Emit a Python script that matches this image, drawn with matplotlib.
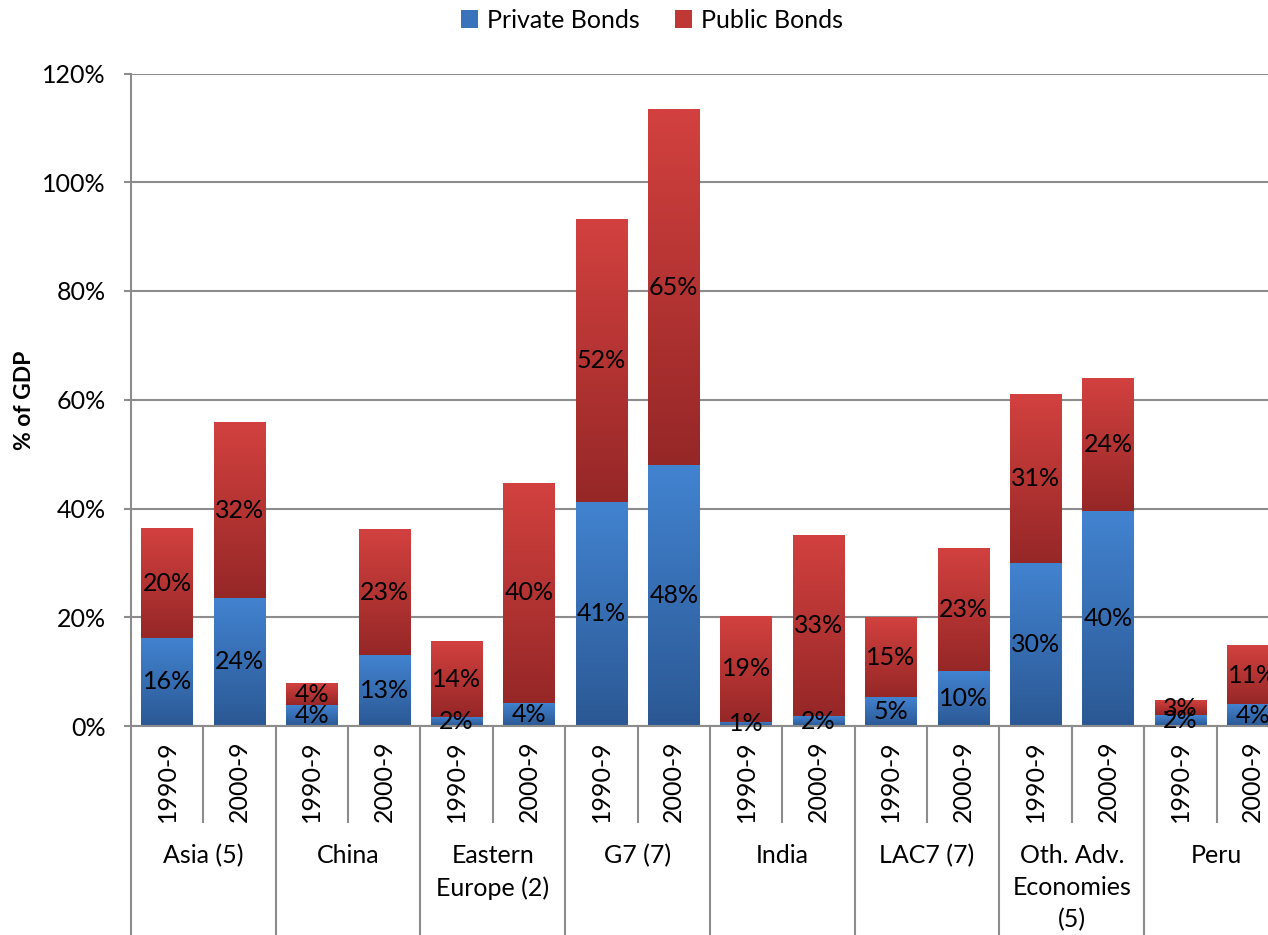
import numpy as np
import matplotlib
matplotlib.use("Agg")
import matplotlib.pyplot as plt
from matplotlib.colors import LinearSegmentedColormap
from matplotlib.patches import Patch
from matplotlib.transforms import blended_transform_factory

W, H = 1268, 935

groups = ["Asia (5)", "China", "Eastern\nEurope (2)", "G7 (7)", "India",
          "LAC7 (7)", "Oth. Adv.\nEconomies\n(5)", "Peru"]
periods = ["1990-9", "2000-9"]

# one value per bar, ordered group by group (1990-9 then 2000-9)
private_bonds = [16.2, 23.6, 3.8, 13.0, 1.7, 4.3, 41.2, 48.0,
                 0.8, 1.8, 5.3, 10.1, 30.0, 39.5, 2.0, 4.0]
public_bonds = [20.1, 32.2, 4.0, 23.0, 13.8, 40.4, 52.0, 65.4,
                19.4, 33.2, 14.7, 22.6, 30.9, 24.4, 2.6, 10.7]

blue_cmap = LinearSegmentedColormap.from_list("blue", ["#2b5894", "#4283d0"])
red_cmap = LinearSegmentedColormap.from_list("red", ["#962727", "#d2413f"])
grey = "#8c8c8c"
fs = 18

plt.rcParams["font.family"] = ["Lato", "DejaVu Sans"]

fig = plt.figure(figsize=(W / 100, H / 100), dpi=100)
ax_left, ax_right, ax_top, ax_base = 131, 1289, 73.5, 726
ax = fig.add_axes([ax_left / W, 1 - ax_base / H,
                   (ax_right - ax_left) / W, (ax_base - ax_top) / H])

x = np.arange(len(private_bonds))
bar_w = 0.71
priv = ax.bar(x, private_bonds, bar_w, color="none", zorder=2)
pub = ax.bar(x, public_bonds, bar_w, bottom=private_bonds, color="none", zorder=2)

# vertical gradient inside each segment, light on top, darker at the base
grad = np.linspace(0, 1, 256).reshape(-1, 1)
for container, cmap in ((priv, blue_cmap), (pub, red_cmap)):
    for rect in container:
        x0, y0 = rect.get_x(), rect.get_y()
        x1, y1 = x0 + rect.get_width(), y0 + rect.get_height()
        ax.imshow(grad, cmap=cmap, extent=[x0, x1, y0, y1], origin="lower",
                  aspect="auto", zorder=2, interpolation="bilinear")
        val = rect.get_height()
        ax.text((x0 + x1) / 2, (y0 + y1) / 2, f"{val:.0f}%", ha="center",
                va="center", fontsize=fs, color="black", zorder=5, clip_on=False)

ax.set_xlim(-0.5, len(x) - 0.5)
ax.set_ylim(0, 120)
ax.set_yticks(np.arange(0, 121, 20))
ax.set_yticklabels([f"{v}%" for v in range(0, 121, 20)], fontsize=fs)
ax.tick_params(axis="y", length=5, width=1.5, color=grey, pad=13)
ax.set_xticks([])
ax.yaxis.grid(True, color=grey, linewidth=1.5, zorder=0)
ax.set_axisbelow(True)
for side in ("top", "right"):
    ax.spines[side].set_visible(False)
for side in ("left", "bottom"):
    ax.spines[side].set_color(grey)
    ax.spines[side].set_linewidth(1.5)
    ax.spines[side].set_zorder(3)

fig.text(25 / W, 1 - 400 / H, "% of GDP", rotation=90, ha="center",
         va="center", fontsize=16.5, fontweight="bold")

# two-level category axis drawn under the plot
tr = blended_transform_factory(ax.transData, fig.transFigure)
y_base = 1 - ax_base / H
y_year_end = 1 - 822 / H
for i in range(len(x)):
    edge = i - 0.5
    if i % 2 == 0:
        ax.plot([edge, edge], [y_base, 0], transform=tr, color=grey, lw=1.5,
                clip_on=False)
    else:
        ax.plot([edge, edge], [y_base, y_year_end], transform=tr, color=grey,
                lw=1.5, clip_on=False)
    ax.text(i, 1 - 781 / H, periods[i % 2], transform=tr, rotation=90,
            ha="center", va="center", fontsize=fs)

for g, name in enumerate(groups):
    ax.text(2 * g + 0.5, 1 - 844 / H, name, transform=tr, ha="center",
            va="top", fontsize=fs, linespacing=1.48)

handles = [Patch(facecolor="#3a73bb", label="Private Bonds"),
           Patch(facecolor="#bf3836", label="Public Bonds")]
fig.legend(handles=handles, loc="center", bbox_to_anchor=(652 / W, 1 - 20 / H),
           ncol=2, frameon=False, fontsize=fs, handlelength=0.7,
           handleheight=0.7, handletextpad=0.35, columnspacing=1.4)

fig.savefig("out.png", dpi=100)
